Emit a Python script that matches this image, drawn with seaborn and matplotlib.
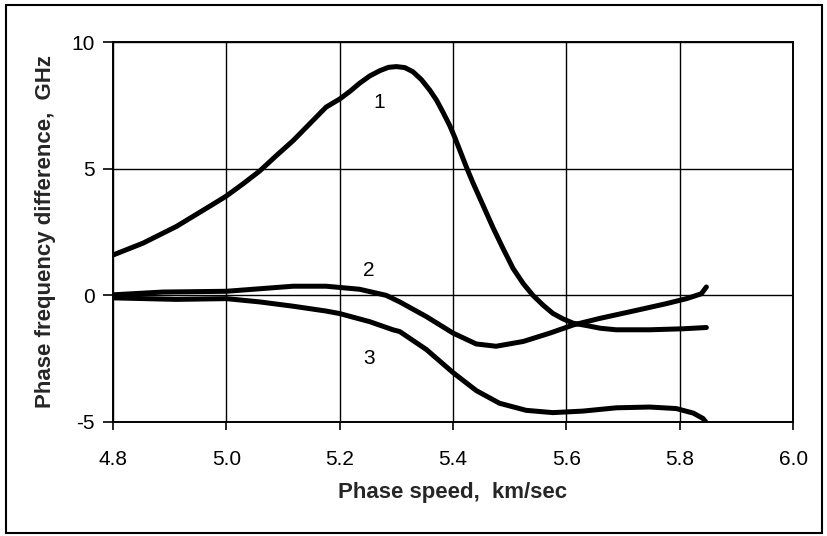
import numpy as np
import pandas as pd
import seaborn as sns
import matplotlib.pyplot as plt
from matplotlib.patches import Rectangle

# curve 1
speed_1 = [4.800, 4.853, 4.912, 4.971, 5.000, 5.030, 5.059, 5.088, 5.118, 5.147,
           5.176, 5.200, 5.218, 5.235, 5.253, 5.271, 5.286, 5.300, 5.315, 5.329,
           5.344, 5.359, 5.371, 5.382, 5.394, 5.403, 5.424, 5.435, 5.447, 5.459,
           5.471, 5.488, 5.506, 5.524, 5.541, 5.559, 5.576, 5.594, 5.612, 5.635,
           5.660, 5.688, 5.747, 5.806, 5.847]
diff_1 = [1.59, 2.06, 2.72, 3.52, 3.92, 4.41, 4.91, 5.51, 6.11, 6.77,
          7.43, 7.75, 8.05, 8.37, 8.66, 8.87, 9.00, 9.03, 8.99, 8.83,
          8.52, 8.10, 7.70, 7.24, 6.71, 6.24, 5.04, 4.45, 3.85, 3.25,
          2.65, 1.86, 1.06, 0.46, 0.00, -0.39, -0.71, -0.93, -1.10, -1.19,
          -1.30, -1.36, -1.36, -1.32, -1.27]

# curve 2
speed_2 = [4.800, 4.888, 5.000, 5.059, 5.118, 5.176, 5.235, 5.282, 5.306, 5.353,
           5.400, 5.441, 5.476, 5.524, 5.571, 5.612, 5.659, 5.718, 5.776, 5.812,
           5.838, 5.847]
diff_2 = [0.02, 0.13, 0.16, 0.26, 0.36, 0.36, 0.24, 0.00, -0.26, -0.84,
          -1.49, -1.92, -2.01, -1.82, -1.49, -1.17, -0.91, -0.62, -0.33, -0.13,
          0.06, 0.33]

# curve 3
speed_3 = [4.800, 4.912, 5.000, 5.059, 5.118, 5.176, 5.200, 5.253, 5.294, 5.306,
           5.353, 5.400, 5.441, 5.482, 5.529, 5.576, 5.629, 5.688, 5.747, 5.794,
           5.824, 5.841, 5.846]
diff_3 = [-0.10, -0.16, -0.13, -0.26, -0.43, -0.62, -0.72, -1.04, -1.36, -1.43,
          -2.14, -3.05, -3.76, -4.26, -4.54, -4.63, -4.57, -4.44, -4.41, -4.47,
          -4.65, -4.86, -5.00]

curve_labels = ['1', '2', '3']
label_x = [5.269, 5.252, 5.252]
label_y = [7.62, 1.0, -2.48]

sns.set_style('ticks')
plt.rcParams['font.family'] = ['Liberation Sans', 'DejaVu Sans']
plt.rcParams['axes.unicode_minus'] = False

fig = plt.figure(figsize=(8.27, 5.36), dpi=100)
ax = fig.add_axes([0.1366, 0.2127, 0.8224, 0.7089])

for xs, ys in [(speed_1, diff_1), (speed_2, diff_2), (speed_3, diff_3)]:
    df = pd.DataFrame({'speed': xs, 'diff': ys})
    sns.lineplot(ax=ax, data=df, x='speed', y='diff', sort=False,
                 color='black', linewidth=3.6, zorder=3,
                 solid_joinstyle='round', solid_capstyle='round')

for lab, lx, ly in zip(curve_labels, label_x, label_y):
    ax.text(lx, ly, lab, fontsize=15, ha='center', va='center', color='black')

ax.set_xlim(4.8, 6.0)
ax.set_ylim(-5, 10)
ax.set_xticks(np.arange(4.8, 6.01, 0.2))
ax.set_xticklabels(['4.8', '5.0', '5.2', '5.4', '5.6', '5.8', '6.0'])
ax.set_yticks([-5, 0, 5, 10])
ax.grid(True, color='black', linewidth=1.0)
for s in ax.spines.values():
    s.set_color('black')
    s.set_linewidth(1.4)
ax.tick_params(axis='x', direction='out', length=6, width=1.2, pad=14,
               labelsize=15, colors='black')
ax.tick_params(axis='y', direction='out', length=7, width=1.2, pad=6,
               labelsize=15, colors='black')

ax.set_xlabel('Phase speed,  km/sec', fontsize=16, fontweight='bold')
ax.set_ylabel('Phase frequency difference,  GHz', fontsize=16, fontweight='bold')
ax.xaxis.set_label_coords(0.5, -0.158)
ax.yaxis.set_label_coords(-0.084, 0.5)

fig.patches.append(Rectangle((0.007, 0.006), 0.987, 0.985, transform=fig.transFigure,
                             fill=False, edgecolor='black', linewidth=1.5))

fig.savefig('out.png', dpi=100)
